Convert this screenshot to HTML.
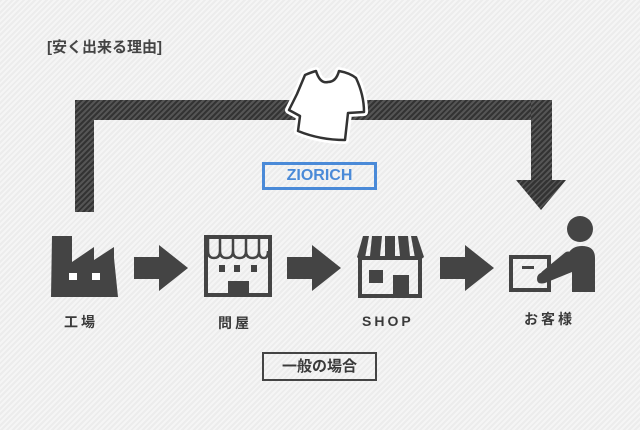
<!DOCTYPE html>
<html><head><meta charset="utf-8"><style>
html,body{margin:0;padding:0}
body{width:640px;height:430px;overflow:hidden;position:relative;
background:repeating-linear-gradient(135deg,#ececec 0 2px,#f5f5f5 2px 4px);
font-family:"Liberation Sans","Noto Sans CJK JP",sans-serif;color:#3a3a3a}
.t{position:absolute;font-weight:bold}
.bar{position:absolute;background:repeating-linear-gradient(135deg,#333 0 2px,#555 2px 4px)}
.box{position:absolute;box-sizing:border-box;text-align:center;font-weight:bold}
</style></head><body>
<div class="t" style="left:47px;top:36px;font-size:15px;color:#444">[安く出来る理由]</div>
<div class="bar" style="left:75px;top:100px;width:19px;height:112px"></div>
<div class="bar" style="left:75px;top:100px;width:477px;height:20px"></div>
<div class="bar" style="left:531px;top:100px;width:21px;height:82px"></div>
<svg width="640" height="430" style="position:absolute;left:0;top:0">
<defs><pattern id="p" width="4" height="4" patternUnits="userSpaceOnUse" patternTransform="rotate(45)"><rect width="4" height="4" fill="#333"/><rect width="1.5" height="4" fill="#555"/></pattern></defs>
<polygon points="516,180 566,180 541,210" fill="url(#p)"/>
<path d="M305,75 Q312,72 316,71 Q320,84 328,82 Q336,82 339,71 Q350,73 356,78 Q364,95 364,112 L348,113 L345,140 Q320,140 298,131 L300,116 L289,110 L297,94 Z" fill="#fff" stroke="#fff" stroke-width="8" stroke-linejoin="round"/>
<path d="M305,75 Q312,72 316,71 Q320,84 328,82 Q336,82 339,71 Q350,73 356,78 Q364,95 364,112 L348,113 L345,140 Q320,140 298,131 L300,116 L289,110 L297,94 Z" fill="#fff" stroke="#333" stroke-width="2.5" stroke-linejoin="round"/>
<!-- factory -->
<path d="M52,236 L72,236 L72,262 L94,247 L94,260 L114,247 L114,258 L118,297 L51,297 Z" fill="#444"/>
<rect x="69" y="273" width="8" height="7" fill="#fff"/><rect x="92" y="273" width="8" height="7" fill="#fff"/>
<!-- arrows -->
<g fill="#444">
<polygon points="134,257 159,257 159,245 188,268 159,291 159,279 134,279"/>
<polygon points="287,257 312,257 312,245 341,268 312,291 312,279 287,279"/>
<polygon points="440,257 465,257 465,245 494,268 465,291 465,279 440,279"/>
</g>
<!-- wholesaler -->
<rect x="206" y="237" width="64" height="58" fill="none" stroke="#444" stroke-width="4"/>
<g fill="none" stroke="#444" stroke-width="2.5">
<path d="M208,239 V251 Q208,258 214,258 Q220,258 220,251 V239 M220,251 Q220,258 226.5,258 Q233,258 233,251 V239 M233,251 Q233,258 239.5,258 Q246,258 246,251 V239 M246,251 Q246,258 252.5,258 Q259,258 259,251 V239 M259,251 Q259,258 264,258 Q268,258 268,251"/>
</g>
<rect x="219" y="265" width="6" height="7" fill="#444"/><rect x="234" y="265" width="6" height="7" fill="#444"/><rect x="251" y="265" width="6" height="7" fill="#444"/>
<rect x="228" y="281" width="21" height="15" fill="#444"/>
<!-- shop -->
<g fill="#444">
<path d="M363,236 L369,236 L365,258 Q360,261 357,257 Z"/>
<path d="M372,236 L382,236 L380,256 Q375,261 370,256 Z"/>
<path d="M385,236 L395,236 L395,256 Q390,261 385,256 Z"/>
<path d="M398,236 L408,236 L410,256 Q405,261 400,256 Z"/>
<path d="M411,236 L417,236 L424,257 Q420,261 415,258 Z"/>
</g>
<rect x="360" y="258" width="60" height="38" fill="none" stroke="#444" stroke-width="4"/>
<rect x="369" y="270" width="14" height="13" fill="#444"/>
<rect x="393" y="275" width="16" height="21" fill="#444"/>
<!-- customer -->
<circle cx="580" cy="229" r="13" fill="#444"/>
<path d="M568,254 Q572,246 582,246 Q595,246 595,258 L595,292 L572,292 L572,272 L545,283 Q537,285 537,279 Q537,273 544,272 L566,260 Z" fill="#444"/>
<rect x="511" y="257" width="38" height="33" fill="none" stroke="#444" stroke-width="4"/>
<rect x="522" y="266" width="12" height="3" fill="#444"/>
<path d="M568,256 L545,275" stroke="#444" stroke-width="9" stroke-linecap="round"/>
</svg>
<div class="box" style="left:262px;top:162px;width:115px;height:28px;border:3px solid #4a8ad8;color:#4a8ad8;font-size:16px;line-height:22px">ZIORICH</div>
<div class="t" style="left:64px;top:312px;font-size:14px;letter-spacing:3px">工場</div>
<div class="t" style="left:218px;top:313px;font-size:14px;letter-spacing:3px">問屋</div>
<div class="t" style="left:362px;top:313px;font-size:14px;letter-spacing:3px">SHOP</div>
<div class="t" style="left:524px;top:309px;font-size:14px;letter-spacing:3px">お客様</div>
<div class="box" style="left:262px;top:352px;width:115px;height:29px;border:2px solid #444;font-size:15px;line-height:25px">一般の場合</div>
</body></html>
